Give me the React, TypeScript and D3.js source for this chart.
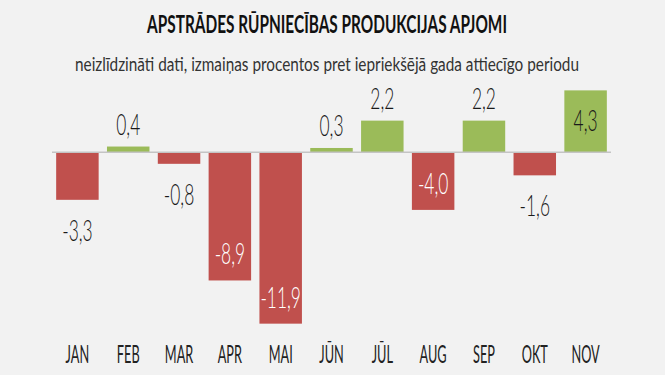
import React, { useLayoutEffect, useRef, useState } from "react";
import * as d3 from "d3";

const months = ["JAN", "FEB", "MAR", "APR", "MAI", "JŪN", "JŪL", "AUG", "SEP", "OKT", "NOV"];
const values = [-3.3, 0.4, -0.8, -8.9, -11.9, 0.3, 2.2, -4.0, 2.2, -1.6, 4.3];
const valueLabels = ["-3,3", "0,4", "-0,8", "-8,9", "-11,9", "0,3", "2,2", "-4,0", "2,2", "-1,6", "4,3"];
const titleText = "APSTRĀDES RŪPNIECĪBAS PRODUKCIJAS APJOMI";
const subtitleText = "neizlīdzināti dati, izmaiņas procentos pret iepriekšējā gada attiecīgo periodu";

const W = 665;
const H = 375;
const RED = "#c0504d";
const GREEN = "#9bbb59";
const FONT = "Lato, 'Open Sans', sans-serif";

export default function App() {
  const titleRef = useRef<SVGTextElement>(null);
  const subRef = useRef<SVGTextElement>(null);
  const [sc, setSc] = useState({ t: 0.65, s: 0.8 });

  useLayoutEffect(() => {
    const tw = titleRef.current ? titleRef.current.getComputedTextLength() : 0;
    const sw = subRef.current ? subRef.current.getComputedTextLength() : 0;
    if (tw > 0 && sw > 0) setSc({ t: 360 / tw, s: 504 / sw });
  }, []);

  const x = d3.scaleBand<string>().domain(months).range([52, 611]).paddingInner(0.164).paddingOuter(0.082);
  const k = 14.4;
  const y0 = 152.3;
  const y = d3.scaleLinear().domain([-12, 4.5]).range([y0 + 12 * k, y0 - 4.5 * k]);
  const insideThreshold = 4;
  const sxVal = 0.6;
  const sxAx = 0.5;

  return (
    <svg width={W} height={H} style={{ position: "absolute", left: 0, top: 0, display: "block" }}>
      <rect x={0} y={0} width={W} height={H} fill="#f2f2f2" />
      <text ref={titleRef} transform={`translate(327,33) scale(${sc.t},1)`} textAnchor="middle" fontFamily={FONT}
        fontWeight={700} fontSize={25} fill="#111">{titleText}</text>
      <text ref={subRef} transform={`translate(327,71) scale(${sc.s},1)`} textAnchor="middle" fontFamily={FONT}
        fontSize={19} fill="#333">{subtitleText}</text>
      {values.map((v, i) => {
        const bx = x(months[i])!;
        const top = Math.min(y(v), y(0));
        const h = Math.abs(y(v) - y(0));
        return <rect key={"b" + i} x={bx} y={top} width={x.bandwidth()} height={h} fill={v >= 0 ? GREEN : RED} />;
      })}
      <line x1={52} x2={611} y1={y(0)} y2={y(0)} stroke="#c4c4c4" strokeWidth={1.5} />
      {values.map((v, i) => {
        const cx = x(months[i])! + x.bandwidth() / 2;
        const inside = Math.abs(v) >= insideThreshold;
        let by: number;
        let fill = "#1a1a1a";
        if (v >= 0) {
          by = inside ? y(v) + 41 : y(v) - 12;
        } else {
          by = inside ? y(v) - 16 : y(v) + 41;
          if (inside) fill = "#ffffff";
        }
        return (
          <text key={"l" + i} transform={`translate(${cx},${by}) scale(${sxVal},1)`} textAnchor="middle"
            fontFamily={FONT} fontWeight={300} fontSize={29} fill={fill}>{valueLabels[i]}</text>
        );
      })}
      {months.map((m, i) => {
        const cx = x(m)! + x.bandwidth() / 2;
        return (
          <text key={"m" + i} transform={`translate(${cx},363) scale(${sxAx},1)`} textAnchor="middle"
            fontFamily={FONT} fontSize={25.5} fill="#222">{m}</text>
        );
      })}
    </svg>
  );
}
